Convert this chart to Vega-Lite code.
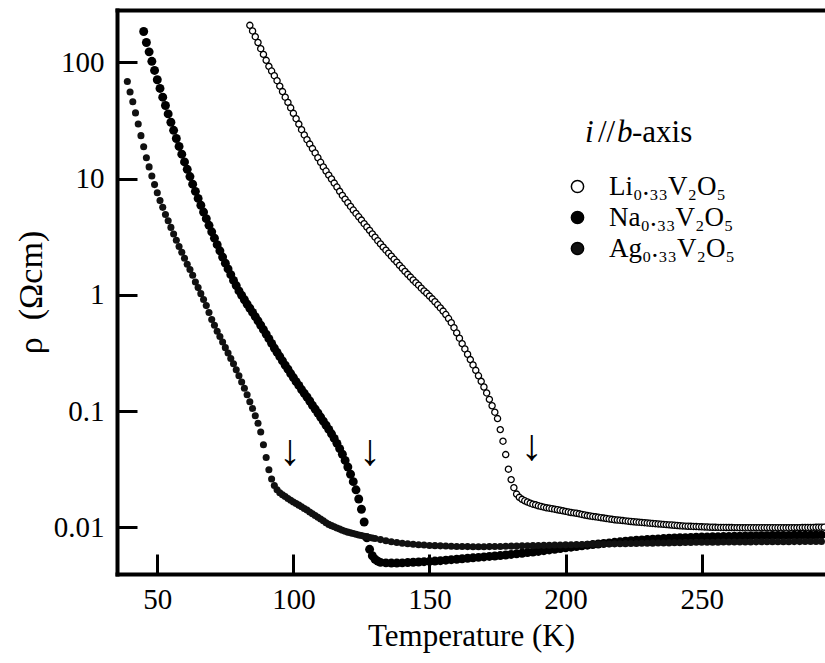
{
"$schema":"https://vega.github.io/schema/vega-lite/v6.json",
"width":708,"height":564,
"autosize":{"type":"none"},
"padding":{"left":117,"top":10,"right":0,"bottom":89},
"background":"white",
"config":{
 "font":"Liberation Serif",
 "view":{"stroke":null},
 "style":{"guide-label":{"font":"Liberation Serif","fill":"black"},"guide-title":{"font":"Liberation Serif","fill":"black"}},
 "axis":{"grid":false,"domainColor":"black","domainWidth":4,"domainCap":"square","tickColor":"black","tickWidth":3,"tickSize":-20,"labelFont":"Liberation Serif","labelFontSize":29,"labelColor":"black","labelOverlap":false,"titleFont":"Liberation Serif","titleFontSize":31,"titleFontWeight":"normal","titleColor":"black"}
},
"datasets":{
"arrows":[{"T":98.8,"r":0.0445},{"T":128.1,"r":0.0445},{"T":187.6,"r":0.049}],
"titleItalic":[{"T":207.13,"r":20.7,"t":"i"},{"T":218.88,"r":20.7,"t":"b"}],
"titleNormal":[{"T":211.9,"r":20.7,"t":"//"},{"T":224.39,"r":20.7,"t":"-axis"}],
"pts":[
{"s":"Ag","T":39,"r":68.4},{"s":"Ag","T":40,"r":55.6},{"s":"Ag","T":41,"r":45.7},{"s":"Ag","T":42,"r":36.7},{"s":"Ag","T":43,"r":29.5},{"s":"Ag","T":44,"r":23.4},{"s":"Ag","T":45,"r":18.8},{"s":"Ag","T":46,"r":15.1},{"s":"Ag","T":47,"r":12.6},{"s":"Ag","T":48,"r":10.5},{"s":"Ag","T":49,"r":8.87},{"s":"Ag","T":50,"r":7.55},{"s":"Ag","T":51,"r":6.46},{"s":"Ag","T":52,"r":5.65},{"s":"Ag","T":53,"r":4.90},{"s":"Ag","T":54,"r":4.34},{"s":"Ag","T":55,"r":3.80},{"s":"Ag","T":56,"r":3.33},{"s":"Ag","T":57,"r":2.95},{"s":"Ag","T":58,"r":2.60},{"s":"Ag","T":59,"r":2.32},{"s":"Ag","T":60,"r":2.06},{"s":"Ag","T":61,"r":1.83},{"s":"Ag","T":62,"r":1.65},{"s":"Ag","T":63,"r":1.47},{"s":"Ag","T":64,"r":1.29},{"s":"Ag","T":65,"r":1.153},{"s":"Ag","T":66,"r":1.023},{"s":"Ag","T":67,"r":0.912},{"s":"Ag","T":68,"r":0.807},{"s":"Ag","T":69,"r":0.703},{"s":"Ag","T":70,"r":0.614},{"s":"Ag","T":71,"r":0.547},{"s":"Ag","T":72,"r":0.486},{"s":"Ag","T":73,"r":0.437},{"s":"Ag","T":74,"r":0.392},{"s":"Ag","T":75,"r":0.351},{"s":"Ag","T":76,"r":0.316},{"s":"Ag","T":77,"r":0.283},{"s":"Ag","T":78,"r":0.255},{"s":"Ag","T":79,"r":0.226},{"s":"Ag","T":80,"r":0.201},{"s":"Ag","T":81,"r":0.178},{"s":"Ag","T":82,"r":0.157},{"s":"Ag","T":83,"r":0.138},{"s":"Ag","T":84,"r":0.120},{"s":"Ag","T":85,"r":0.105},{"s":"Ag","T":86,"r":0.0912},{"s":"Ag","T":87,"r":0.0785},{"s":"Ag","T":88,"r":0.0661},{"s":"Ag","T":89,"r":0.0513},{"s":"Ag","T":90,"r":0.0398},{"s":"Ag","T":91,"r":0.0313},{"s":"Ag","T":92,"r":0.0260},{"s":"Ag","T":93,"r":0.0229},{"s":"Ag","T":94,"r":0.0210},{"s":"Ag","T":95,"r":0.0198},{"s":"Ag","T":96,"r":0.0190},{"s":"Ag","T":97,"r":0.0184},{"s":"Ag","T":98,"r":0.0177},{"s":"Ag","T":99,"r":0.0171},{"s":"Ag","T":100,"r":0.0165},{"s":"Ag","T":101,"r":0.0160},{"s":"Ag","T":102,"r":0.0155},{"s":"Ag","T":103,"r":0.0150},{"s":"Ag","T":104,"r":0.0145},{"s":"Ag","T":105,"r":0.0141},{"s":"Ag","T":106,"r":0.01355},{"s":"Ag","T":107,"r":0.01306},{"s":"Ag","T":108,"r":0.01262},{"s":"Ag","T":109,"r":0.01219},{"s":"Ag","T":110,"r":0.01178},{"s":"Ag","T":111,"r":0.01138},{"s":"Ag","T":112,"r":0.01095},{"s":"Ag","T":113,"r":0.01059},{"s":"Ag","T":114,"r":0.01033},{"s":"Ag","T":115,"r":0.01009},{"s":"Ag","T":116,"r":0.00986},{"s":"Ag","T":117,"r":0.00964},{"s":"Ag","T":118,"r":0.00944},{"s":"Ag","T":119,"r":0.00925},{"s":"Ag","T":120,"r":0.00908},{"s":"Ag","T":121,"r":0.00895},{"s":"Ag","T":122,"r":0.00883},{"s":"Ag","T":123,"r":0.00871},{"s":"Ag","T":124,"r":0.00859},{"s":"Ag","T":125,"r":0.00849},{"s":"Ag","T":126,"r":0.00838},{"s":"Ag","T":127,"r":0.00828},{"s":"Ag","T":128,"r":0.00818},{"s":"Ag","T":129,"r":0.00809},
{"s":"Ag","T":130,"r":0.00800},{"s":"Ag","T":132,"r":0.00783},{"s":"Ag","T":134,"r":0.00767},{"s":"Ag","T":136,"r":0.00752},{"s":"Ag","T":138,"r":0.00740},{"s":"Ag","T":140,"r":0.00729},{"s":"Ag","T":142,"r":0.00721},{"s":"Ag","T":144,"r":0.00714},{"s":"Ag","T":146,"r":0.00708},{"s":"Ag","T":148,"r":0.00703},{"s":"Ag","T":150,"r":0.00698},{"s":"Ag","T":152,"r":0.00695},{"s":"Ag","T":154,"r":0.00692},{"s":"Ag","T":156,"r":0.00689},{"s":"Ag","T":158,"r":0.00686},{"s":"Ag","T":160,"r":0.00684},{"s":"Ag","T":162,"r":0.00683},{"s":"Ag","T":164,"r":0.00682},{"s":"Ag","T":166,"r":0.00681},{"s":"Ag","T":168,"r":0.00681},{"s":"Ag","T":170,"r":0.00681},{"s":"Ag","T":172,"r":0.00682},{"s":"Ag","T":174,"r":0.00683},{"s":"Ag","T":176,"r":0.00684},{"s":"Ag","T":178,"r":0.00686},{"s":"Ag","T":180,"r":0.00688},{"s":"Ag","T":182,"r":0.00690},{"s":"Ag","T":184,"r":0.00692},{"s":"Ag","T":186,"r":0.00693},{"s":"Ag","T":188,"r":0.00695},{"s":"Ag","T":190,"r":0.00697},{"s":"Ag","T":192,"r":0.00699},{"s":"Ag","T":194,"r":0.00701},{"s":"Ag","T":196,"r":0.00703},{"s":"Ag","T":198,"r":0.00705},{"s":"Ag","T":200,"r":0.00706},{"s":"Ag","T":202,"r":0.00708},{"s":"Ag","T":204,"r":0.00710},{"s":"Ag","T":206,"r":0.00711},{"s":"Ag","T":208,"r":0.00713},{"s":"Ag","T":210,"r":0.00714},{"s":"Ag","T":212,"r":0.00716},{"s":"Ag","T":214,"r":0.00717},{"s":"Ag","T":216,"r":0.00719},{"s":"Ag","T":218,"r":0.00720},{"s":"Ag","T":220,"r":0.00722},{"s":"Ag","T":222,"r":0.00723},{"s":"Ag","T":224,"r":0.00725},{"s":"Ag","T":226,"r":0.00726},{"s":"Ag","T":228,"r":0.00728},{"s":"Ag","T":230,"r":0.00729},{"s":"Ag","T":232,"r":0.00730},{"s":"Ag","T":234,"r":0.00732},{"s":"Ag","T":236,"r":0.00733},{"s":"Ag","T":238,"r":0.00734},{"s":"Ag","T":240,"r":0.00736},{"s":"Ag","T":242,"r":0.00737},{"s":"Ag","T":244,"r":0.00739},{"s":"Ag","T":246,"r":0.00740},{"s":"Ag","T":248,"r":0.00742},{"s":"Ag","T":250,"r":0.00743},{"s":"Ag","T":252,"r":0.00744},{"s":"Ag","T":254,"r":0.00744},{"s":"Ag","T":256,"r":0.00745},{"s":"Ag","T":258,"r":0.00746},{"s":"Ag","T":260,"r":0.00746},{"s":"Ag","T":262,"r":0.00747},{"s":"Ag","T":264,"r":0.00747},{"s":"Ag","T":266,"r":0.00748},{"s":"Ag","T":268,"r":0.00748},{"s":"Ag","T":270,"r":0.00749},{"s":"Ag","T":272,"r":0.00750},{"s":"Ag","T":274,"r":0.00750},{"s":"Ag","T":276,"r":0.00751},{"s":"Ag","T":278,"r":0.00751},{"s":"Ag","T":280,"r":0.00752},{"s":"Ag","T":282,"r":0.00752},{"s":"Ag","T":284,"r":0.00753},{"s":"Ag","T":286,"r":0.00753},{"s":"Ag","T":288,"r":0.00754},{"s":"Ag","T":290,"r":0.00754},{"s":"Ag","T":292,"r":0.00755},{"s":"Ag","T":294,"r":0.00755},
{"s":"Na","T":45,"r":184},{"s":"Na","T":46,"r":148},{"s":"Na","T":47,"r":123},{"s":"Na","T":48,"r":102},{"s":"Na","T":49,"r":85.1},{"s":"Na","T":50,"r":70.8},{"s":"Na","T":51,"r":59.6},{"s":"Na","T":52,"r":50.1},{"s":"Na","T":53,"r":42.5},{"s":"Na","T":54,"r":36.0},{"s":"Na","T":55,"r":30.5},{"s":"Na","T":56,"r":26.0},{"s":"Na","T":57,"r":22.1},{"s":"Na","T":58,"r":18.9},{"s":"Na","T":59,"r":16.2},{"s":"Na","T":60,"r":13.9},{"s":"Na","T":61,"r":12.0},{"s":"Na","T":62,"r":10.4},{"s":"Na","T":63,"r":8.95},{"s":"Na","T":64,"r":7.76},{"s":"Na","T":65,"r":6.75},{"s":"Na","T":66,"r":5.89},{"s":"Na","T":67,"r":5.15},{"s":"Na","T":68,"r":4.52},{"s":"Na","T":69,"r":3.96},{"s":"Na","T":70,"r":3.48},{"s":"Na","T":71,"r":3.07},{"s":"Na","T":72,"r":2.70},{"s":"Na","T":73,"r":2.39},{"s":"Na","T":74,"r":2.11},{"s":"Na","T":75,"r":1.87},{"s":"Na","T":76,"r":1.67},{"s":"Na","T":77,"r":1.49},{"s":"Na","T":78,"r":1.33},{"s":"Na","T":79,"r":1.20},{"s":"Na","T":80,"r":1.08},{"s":"Na","T":81,"r":0.989},{"s":"Na","T":82,"r":0.906},{"s":"Na","T":83,"r":0.832},{"s":"Na","T":84,"r":0.766},{"s":"Na","T":85,"r":0.705},{"s":"Na","T":86,"r":0.649},{"s":"Na","T":87,"r":0.597},{"s":"Na","T":88,"r":0.547},{"s":"Na","T":89,"r":0.501},{"s":"Na","T":90,"r":0.459},{"s":"Na","T":91,"r":0.419},{"s":"Na","T":92,"r":0.382},{"s":"Na","T":93,"r":0.348},{"s":"Na","T":94,"r":0.320},{"s":"Na","T":95,"r":0.294},{"s":"Na","T":96,"r":0.270},{"s":"Na","T":97,"r":0.248},{"s":"Na","T":98,"r":0.229},{"s":"Na","T":99,"r":0.210},{"s":"Na","T":100,"r":0.194},{"s":"Na","T":101,"r":0.179},{"s":"Na","T":102,"r":0.166},{"s":"Na","T":103,"r":0.153},{"s":"Na","T":104,"r":0.142},{"s":"Na","T":105,"r":0.132},{"s":"Na","T":106,"r":0.122},{"s":"Na","T":107,"r":0.112},{"s":"Na","T":108,"r":0.104},{"s":"Na","T":109,"r":0.0962},{"s":"Na","T":110,"r":0.0887},{"s":"Na","T":111,"r":0.0818},{"s":"Na","T":112,"r":0.0755},{"s":"Na","T":113,"r":0.0695},{"s":"Na","T":114,"r":0.0637},{"s":"Na","T":115,"r":0.0581},{"s":"Na","T":116,"r":0.0527},{"s":"Na","T":117,"r":0.0475},{"s":"Na","T":118,"r":0.0425},{"s":"Na","T":119,"r":0.0376},{"s":"Na","T":120,"r":0.0330},{"s":"Na","T":121,"r":0.0286},{"s":"Na","T":122,"r":0.0247},{"s":"Na","T":123,"r":0.0210},{"s":"Na","T":124,"r":0.0175},{"s":"Na","T":125,"r":0.0143},{"s":"Na","T":126,"r":0.0111},{"s":"Na","T":127,"r":0.00813},{"s":"Na","T":128,"r":0.00646},{"s":"Na","T":129,"r":0.00569},{"s":"Na","T":130,"r":0.00531},{"s":"Na","T":131,"r":0.00511},{"s":"Na","T":132,"r":0.00499},
{"s":"Na","T":134,"r":0.00494},{"s":"Na","T":136,"r":0.00492},{"s":"Na","T":138,"r":0.00492},{"s":"Na","T":140,"r":0.00494},{"s":"Na","T":142,"r":0.00497},{"s":"Na","T":144,"r":0.00500},{"s":"Na","T":146,"r":0.00503},{"s":"Na","T":148,"r":0.00506},{"s":"Na","T":150,"r":0.00509},{"s":"Na","T":152,"r":0.00512},{"s":"Na","T":154,"r":0.00516},{"s":"Na","T":156,"r":0.00521},{"s":"Na","T":158,"r":0.00526},{"s":"Na","T":160,"r":0.00531},{"s":"Na","T":162,"r":0.00536},{"s":"Na","T":164,"r":0.00541},{"s":"Na","T":166,"r":0.00546},{"s":"Na","T":168,"r":0.00551},{"s":"Na","T":170,"r":0.00556},{"s":"Na","T":172,"r":0.00561},{"s":"Na","T":174,"r":0.00566},{"s":"Na","T":176,"r":0.00571},{"s":"Na","T":178,"r":0.00577},{"s":"Na","T":180,"r":0.00584},{"s":"Na","T":182,"r":0.00591},{"s":"Na","T":184,"r":0.00598},{"s":"Na","T":186,"r":0.00605},{"s":"Na","T":188,"r":0.00612},{"s":"Na","T":190,"r":0.00620},{"s":"Na","T":192,"r":0.00629},{"s":"Na","T":194,"r":0.00638},{"s":"Na","T":196,"r":0.00647},{"s":"Na","T":198,"r":0.00656},{"s":"Na","T":200,"r":0.00665},{"s":"Na","T":202,"r":0.00674},{"s":"Na","T":204,"r":0.00683},{"s":"Na","T":206,"r":0.00692},{"s":"Na","T":208,"r":0.00701},{"s":"Na","T":210,"r":0.00710},{"s":"Na","T":212,"r":0.00718},{"s":"Na","T":214,"r":0.00726},{"s":"Na","T":216,"r":0.00734},{"s":"Na","T":218,"r":0.00742},{"s":"Na","T":220,"r":0.00750},{"s":"Na","T":222,"r":0.00758},{"s":"Na","T":224,"r":0.00766},{"s":"Na","T":226,"r":0.00773},{"s":"Na","T":228,"r":0.00779},{"s":"Na","T":230,"r":0.00785},{"s":"Na","T":232,"r":0.00790},{"s":"Na","T":234,"r":0.00795},{"s":"Na","T":236,"r":0.00800},{"s":"Na","T":238,"r":0.00804},{"s":"Na","T":240,"r":0.00808},{"s":"Na","T":242,"r":0.00812},{"s":"Na","T":244,"r":0.00815},{"s":"Na","T":246,"r":0.00818},{"s":"Na","T":248,"r":0.00821},{"s":"Na","T":250,"r":0.00824},{"s":"Na","T":252,"r":0.00826},{"s":"Na","T":254,"r":0.00828},{"s":"Na","T":256,"r":0.00830},{"s":"Na","T":258,"r":0.00832},{"s":"Na","T":260,"r":0.00834},{"s":"Na","T":262,"r":0.00836},{"s":"Na","T":264,"r":0.00838},{"s":"Na","T":266,"r":0.00840},{"s":"Na","T":268,"r":0.00842},{"s":"Na","T":270,"r":0.00843},{"s":"Na","T":272,"r":0.00845},{"s":"Na","T":274,"r":0.00846},{"s":"Na","T":276,"r":0.00848},{"s":"Na","T":278,"r":0.00849},{"s":"Na","T":280,"r":0.00851},{"s":"Na","T":282,"r":0.00852},{"s":"Na","T":284,"r":0.00854},{"s":"Na","T":286,"r":0.00855},{"s":"Na","T":288,"r":0.00856},{"s":"Na","T":290,"r":0.00857},{"s":"Na","T":292,"r":0.00858},{"s":"Na","T":294,"r":0.00859},
{"s":"Li","T":84,"r":208},{"s":"Li","T":85,"r":186},{"s":"Li","T":86,"r":166},{"s":"Li","T":87,"r":148},{"s":"Li","T":88,"r":131},{"s":"Li","T":89,"r":117},{"s":"Li","T":90,"r":104},{"s":"Li","T":91,"r":92.3},{"s":"Li","T":92,"r":84.1},{"s":"Li","T":93,"r":76.7},{"s":"Li","T":94,"r":69.5},{"s":"Li","T":95,"r":62.4},{"s":"Li","T":96,"r":56.0},{"s":"Li","T":97,"r":50.1},{"s":"Li","T":98,"r":45.2},{"s":"Li","T":99,"r":40.6},{"s":"Li","T":100,"r":36.4},{"s":"Li","T":101,"r":32.7},{"s":"Li","T":102,"r":29.4},{"s":"Li","T":103,"r":26.3},{"s":"Li","T":104,"r":23.7},{"s":"Li","T":105,"r":21.6},{"s":"Li","T":106,"r":19.8},{"s":"Li","T":107,"r":18.1},{"s":"Li","T":108,"r":16.6},{"s":"Li","T":109,"r":15.1},{"s":"Li","T":110,"r":13.8},{"s":"Li","T":111,"r":12.6},{"s":"Li","T":112,"r":11.6},{"s":"Li","T":113,"r":10.7},{"s":"Li","T":114,"r":9.91},{"s":"Li","T":115,"r":9.14},{"s":"Li","T":116,"r":8.45},{"s":"Li","T":117,"r":7.76},{"s":"Li","T":118,"r":7.16},{"s":"Li","T":119,"r":6.65},{"s":"Li","T":120,"r":6.19},{"s":"Li","T":121,"r":5.75},{"s":"Li","T":122,"r":5.36},{"s":"Li","T":123,"r":5.01},{"s":"Li","T":124,"r":4.69},{"s":"Li","T":125,"r":4.39},{"s":"Li","T":126,"r":4.09},{"s":"Li","T":127,"r":3.83},{"s":"Li","T":128,"r":3.58},{"s":"Li","T":129,"r":3.34},{"s":"Li","T":130,"r":3.13},{"s":"Li","T":131,"r":2.92},{"s":"Li","T":132,"r":2.74},{"s":"Li","T":133,"r":2.57},{"s":"Li","T":134,"r":2.42},{"s":"Li","T":135,"r":2.28},{"s":"Li","T":136,"r":2.15},{"s":"Li","T":137,"r":2.02},{"s":"Li","T":138,"r":1.91},{"s":"Li","T":139,"r":1.79},{"s":"Li","T":140,"r":1.69},{"s":"Li","T":141,"r":1.59},{"s":"Li","T":142,"r":1.50},{"s":"Li","T":143,"r":1.42},{"s":"Li","T":144,"r":1.34},{"s":"Li","T":145,"r":1.27},{"s":"Li","T":146,"r":1.21},{"s":"Li","T":147,"r":1.14},{"s":"Li","T":148,"r":1.08},{"s":"Li","T":149,"r":1.03},{"s":"Li","T":150,"r":0.975},{"s":"Li","T":151,"r":0.923},{"s":"Li","T":152,"r":0.871},{"s":"Li","T":153,"r":0.820},{"s":"Li","T":154,"r":0.771},{"s":"Li","T":155,"r":0.724},{"s":"Li","T":156,"r":0.676},{"s":"Li","T":157,"r":0.625},{"s":"Li","T":158,"r":0.575},{"s":"Li","T":159,"r":0.521},{"s":"Li","T":160,"r":0.470},{"s":"Li","T":161,"r":0.423},{"s":"Li","T":162,"r":0.380},{"s":"Li","T":163,"r":0.342},{"s":"Li","T":164,"r":0.308},{"s":"Li","T":165,"r":0.277},{"s":"Li","T":166,"r":0.249},{"s":"Li","T":167,"r":0.224},{"s":"Li","T":168,"r":0.201},{"s":"Li","T":169,"r":0.180},{"s":"Li","T":170,"r":0.161},{"s":"Li","T":171,"r":0.143},{"s":"Li","T":172,"r":0.126},{"s":"Li","T":173,"r":0.111},{"s":"Li","T":174,"r":0.0977},{"s":"Li","T":175,"r":0.0861},{"s":"Li","T":176,"r":0.0692},{"s":"Li","T":177,"r":0.0550},{"s":"Li","T":178,"r":0.0422},{"s":"Li","T":179,"r":0.0316},{"s":"Li","T":180,"r":0.0257},{"s":"Li","T":181,"r":0.0219},{"s":"Li","T":182,"r":0.0193},{"s":"Li","T":183,"r":0.0181},{"s":"Li","T":184,"r":0.0174},{"s":"Li","T":185,"r":0.0169},{"s":"Li","T":186,"r":0.0165},{"s":"Li","T":187,"r":0.0161},{"s":"Li","T":188,"r":0.0158},{"s":"Li","T":189,"r":0.0156},{"s":"Li","T":190,"r":0.0153},{"s":"Li","T":191,"r":0.0151},{"s":"Li","T":192,"r":0.0149},{"s":"Li","T":193,"r":0.0147},{"s":"Li","T":194,"r":0.0146},{"s":"Li","T":195,"r":0.01445},{"s":"Li","T":196,"r":0.0143},{"s":"Li","T":197,"r":0.01415},{"s":"Li","T":198,"r":0.0140},{"s":"Li","T":199,"r":0.01385},{"s":"Li","T":200,"r":0.0137},{"s":"Li","T":201,"r":0.01355},{"s":"Li","T":202,"r":0.0134},{"s":"Li","T":203,"r":0.0133},{"s":"Li","T":204,"r":0.0132},{"s":"Li","T":205,"r":0.01305},{"s":"Li","T":206,"r":0.0129},{"s":"Li","T":207,"r":0.01275},{"s":"Li","T":208,"r":0.0126},{"s":"Li","T":209,"r":0.0125},{"s":"Li","T":210,"r":0.0124},{"s":"Li","T":211,"r":0.0123},{"s":"Li","T":212,"r":0.0122},{"s":"Li","T":213,"r":0.0121},{"s":"Li","T":214,"r":0.0120},{"s":"Li","T":215,"r":0.0119},{"s":"Li","T":216,"r":0.0118},{"s":"Li","T":217,"r":0.0117},{"s":"Li","T":218,"r":0.0116},{"s":"Li","T":219,"r":0.01155},{"s":"Li","T":220,"r":0.0115},{"s":"Li","T":221,"r":0.01142},{"s":"Li","T":222,"r":0.01135},{"s":"Li","T":223,"r":0.01128},{"s":"Li","T":224,"r":0.0112},{"s":"Li","T":225,"r":0.01115},{"s":"Li","T":226,"r":0.0111},{"s":"Li","T":227,"r":0.01105},{"s":"Li","T":228,"r":0.0110},{"s":"Li","T":229,"r":0.01095},{"s":"Li","T":230,"r":0.01089},{"s":"Li","T":231,"r":0.01084},{"s":"Li","T":232,"r":0.01079},{"s":"Li","T":233,"r":0.01074},{"s":"Li","T":234,"r":0.01069},{"s":"Li","T":235,"r":0.01064},{"s":"Li","T":236,"r":0.01059},{"s":"Li","T":237,"r":0.01054},{"s":"Li","T":238,"r":0.01049},{"s":"Li","T":239,"r":0.01045},{"s":"Li","T":240,"r":0.0104},{"s":"Li","T":241,"r":0.01035},{"s":"Li","T":242,"r":0.0103},{"s":"Li","T":243,"r":0.01027},{"s":"Li","T":244,"r":0.01023},{"s":"Li","T":245,"r":0.0102},{"s":"Li","T":246,"r":0.01019},{"s":"Li","T":247,"r":0.01016},{"s":"Li","T":248,"r":0.01014},{"s":"Li","T":249,"r":0.01012},{"s":"Li","T":250,"r":0.01009},{"s":"Li","T":251,"r":0.01007},{"s":"Li","T":252,"r":0.01005},{"s":"Li","T":253,"r":0.01002},{"s":"Li","T":254,"r":0.0100},{"s":"Li","T":255,"r":0.00999},{"s":"Li","T":256,"r":0.00998},{"s":"Li","T":257,"r":0.00997},{"s":"Li","T":258,"r":0.00996},{"s":"Li","T":259,"r":0.00995},{"s":"Li","T":260,"r":0.00994},{"s":"Li","T":261,"r":0.00994},{"s":"Li","T":262,"r":0.00993},{"s":"Li","T":263,"r":0.00993},{"s":"Li","T":264,"r":0.00992},{"s":"Li","T":265,"r":0.00992},{"s":"Li","T":266,"r":0.00991},{"s":"Li","T":267,"r":0.00991},{"s":"Li","T":268,"r":0.0099},{"s":"Li","T":269,"r":0.0099},{"s":"Li","T":270,"r":0.0099},{"s":"Li","T":271,"r":0.0099},{"s":"Li","T":272,"r":0.0099},{"s":"Li","T":273,"r":0.0099},{"s":"Li","T":274,"r":0.0099},{"s":"Li","T":275,"r":0.0099},{"s":"Li","T":276,"r":0.0099},{"s":"Li","T":277,"r":0.0099},{"s":"Li","T":278,"r":0.0099},{"s":"Li","T":279,"r":0.0099},{"s":"Li","T":280,"r":0.0099},{"s":"Li","T":281,"r":0.00991},{"s":"Li","T":282,"r":0.00991},{"s":"Li","T":283,"r":0.00992},{"s":"Li","T":284,"r":0.00992},{"s":"Li","T":285,"r":0.00993},{"s":"Li","T":286,"r":0.00993},{"s":"Li","T":287,"r":0.00994},{"s":"Li","T":288,"r":0.00995},{"s":"Li","T":289,"r":0.00996},{"s":"Li","T":290,"r":0.00997},{"s":"Li","T":291,"r":0.00998},{"s":"Li","T":292,"r":0.00999},{"s":"Li","T":293,"r":0.0100},{"s":"Li","T":294,"r":0.01001},{"s":"Li","T":295,"r":0.01002}
]},
"layer":[
 {
  "data":{"name":"pts"},
  "encoding":{
   "x":{"field":"T","type":"quantitative","scale":{"domain":[35.2,295.3],"nice":false,"zero":false},
        "axis":{"orient":"bottom","values":[50,100,150,200,250],"format":"d","labelFont":"Liberation Serif","labelFontSize":29,"labelColor":"black","labelPadding":31,"title":"Temperature (K)","titleFont":"Liberation Serif","titleFontSize":31,"titleFontWeight":"normal","titleColor":"black","titlePadding":7}},
   "y":{"field":"r","type":"quantitative","scale":{"type":"log","domain":[0.003963,281.8],"nice":false},
        "axis":{"values":[0.01,0.1,1,10,100],"format":"~g","labelFont":"Liberation Serif","labelFontSize":29,"labelColor":"black","labelPadding":33,"title":"ρ\u00a0\u00a0(Ωcm)","titleFont":"Liberation Serif","titleFontSize":34,"titleFontWeight":"normal","titleColor":"black","titlePadding":5}},
   "fill":{"field":"s","type":"nominal","scale":{"domain":["Li","Na","Ag"],"range":["white","black","#111111"]},
        "legend":{"orient":"none","legendX":447,"legendY":163,"title":null,
                  "labelFont":"Liberation Serif","labelFontSize":27,"labelColor":"black","labelOffset":18,"symbolSize":150,"symbolType":"circle","symbolStrokeColor":"black","symbolStrokeWidth":1.5,"symbolOpacity":1,"rowPadding":3,
                  "labelExpr":"datum.label == 'Li' ? 'Li₀.₃₃V₂O₅' : datum.label == 'Na' ? 'Na₀.₃₃V₂O₅' : 'Ag₀.₃₃V₂O₅'"}}
  },
  "layer":[
   {"transform":[{"filter":"datum.s == 'Na'"}],"mark":{"type":"point","shape":"circle","filled":true,"size":80,"strokeWidth":0,"opacity":1}},
   {"transform":[{"filter":"datum.s == 'Ag'"}],"mark":{"type":"point","shape":"circle","filled":true,"size":50,"strokeWidth":0,"opacity":1}},
   {"transform":[{"filter":"datum.s == 'Li'"}],"mark":{"type":"point","shape":"circle","filled":true,"size":38,"stroke":"black","strokeWidth":1.3,"opacity":1}}
  ]
 },
 {
  "encoding":{
   "x":{"field":"T","type":"quantitative","scale":{"domain":[35.2,295.3],"nice":false,"zero":false},
        "axis":{"orient":"top","ticks":false,"labels":false,"title":null,"domainWidth":4}},
   "y":{"field":"r","type":"quantitative","scale":{"type":"log","domain":[0.003963,281.8],"nice":false},
        "axis":{"values":[0.01,0.1,1,10,100],"format":"~g","labelFont":"Liberation Serif","labelFontSize":29,"labelColor":"black","labelPadding":33,"title":"ρ\u00a0\u00a0(Ωcm)","titleFont":"Liberation Serif","titleFontSize":34,"titleFontWeight":"normal","titleColor":"black","titlePadding":5}}
  },
  "layer":[
   {"data":{"name":"arrows"},
    "mark":{"type":"text","text":"↓","font":"Liberation Serif","fontSize":44,"align":"center","baseline":"middle","fill":"black"}},
   {"data":{"name":"titleItalic"},
    "mark":{"type":"text","font":"Liberation Serif","fontSize":31,"fontStyle":"italic","align":"left","baseline":"alphabetic","fill":"black"},
    "encoding":{"text":{"field":"t"}}},
   {"data":{"name":"titleNormal"},
    "mark":{"type":"text","font":"Liberation Serif","fontSize":31,"align":"left","baseline":"alphabetic","fill":"black"},
    "encoding":{"text":{"field":"t"}}}
  ]
 }
],
"resolve":{"axis":{"x":"independent"}}
}
